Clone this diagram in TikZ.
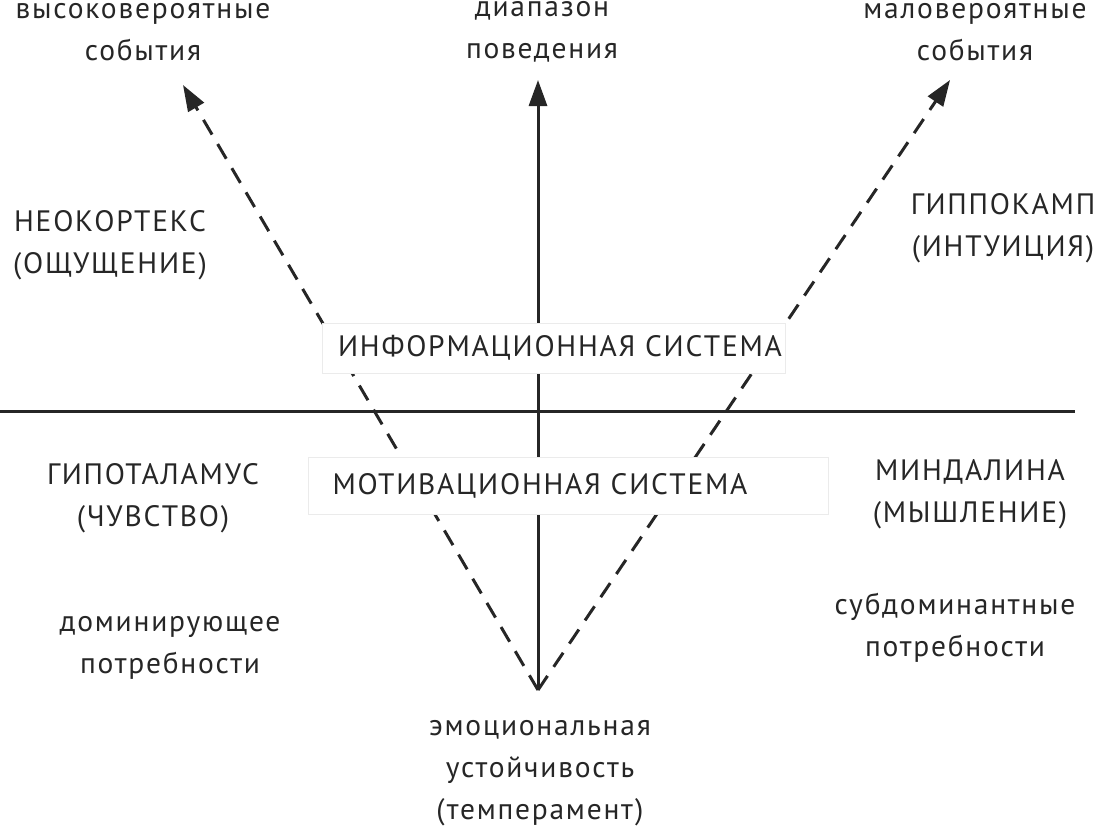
\documentclass[tikz,border=0pt]{standalone}
\usepackage{fontspec}
\setmainfont[LetterSpace=6]{PT Sans}
\usetikzlibrary{arrows.meta}
\begin{document}
\begin{tikzpicture}[x=1pt,y=-1pt,
  lbl/.style={align=center,font=\fontsize{29.5}{42}\selectfont,text=black!85},
  axis/.style={line width=3pt,draw=black!85},
  dsh/.style={line width=3pt,draw=black!85,dash pattern=on 17pt off 11pt},
  tip/.style={-{Triangle[length=26pt,width=18pt]}},
  sysbox/.style={fill=white,draw=black!8,minimum height=50pt}]
\useasboundingbox (0,0) rectangle (1100,836);
\coordinate (o) at (538,690);
\coordinate (top) at (538,80);
\coordinate (lt) at (183,85);
\coordinate (rt) at (950,80);
\coordinate (hl) at (0,411);
\coordinate (hr) at (1075,411);
\draw[axis] (hl) -- (hr);
\draw[axis,tip] (o) -- (top);
\draw[dsh,tip] (o) -- (lt);
\draw[dsh,tip] (o) -- (rt);
\node[sysbox,minimum width=463pt] (info) at (554,348) {};
\node[lbl] (infot) at (560,348) {ИНФОРМАЦИОННАЯ СИСТЕМА};
\node[sysbox,minimum width=520pt,minimum height=57pt] (mot) at (568,486) {};
\node[lbl] (mott) at (540,486) {МОТИВАЦИОННАЯ СИСТЕМА};
\node[lbl] (a) at (143,32) {высоковероятные\\события};
\node[lbl] (b) at (542,32) {диапазон\\поведения};
\node[lbl] (c) at (975,32) {маловероятные\\события};
\node[lbl] (d) at (110,245) {НЕОКОРТЕКС\\(ОЩУЩЕНИЕ)};
\node[lbl] (e) at (1003,228) {ГИППОКАМП\\(ИНТУИЦИЯ)};
\node[lbl] (f) at (153,498) {ГИПОТАЛАМУС\\(ЧУВСТВО)};
\node[lbl] (g) at (970,494) {МИНДАЛИНА\\(МЫШЛЕНИЕ)};
\node[lbl] (h) at (170,648) {доминирующее\\потребности};
\node[lbl] (i) at (955,628) {субдоминантные\\потребности};
\node[lbl] (j) at (540,773) {эмоциональная\\устойчивость\\(темперамент)};
\end{tikzpicture}
\end{document}
